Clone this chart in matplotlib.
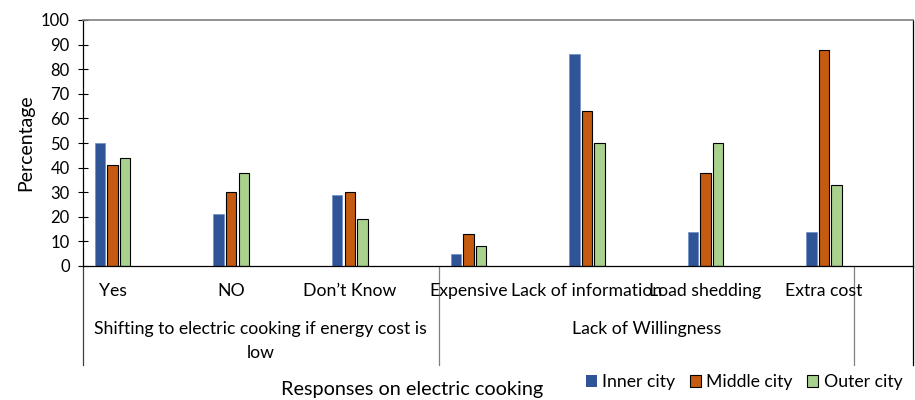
import matplotlib
matplotlib.use("Agg")
import matplotlib.pyplot as plt
import matplotlib.transforms as mtransforms
from matplotlib.patches import Patch
import numpy as np

plt.rcParams['font.family'] = ['Lato', 'DejaVu Sans']

categories = ['Yes', 'NO', 'Don\u2019t Know', 'Expensive', 'Lack of information',
              'Load shedding', 'Extra cost']
groups = ['Shifting to electric cooking if energy cost is\nlow', 'Lack of Willingness']
series = ['Inner city', 'Middle city', 'Outer city']
inner = [50, 21, 29, 5, 86, 14, 14]
middle = [41, 30, 30, 13, 63, 38, 88]
outer = [44, 38, 19, 8, 50, 50, 33]
colors = ['#2F5597', '#C55A11', '#A9D18E']

W, H = 915, 400
fig = plt.figure(figsize=(W / 100, H / 100), dpi=100)
ax = fig.add_axes([83 / W, 1 - 266 / H, 830 / W, 246 / H])

x = np.arange(len(categories))
bw = 0.089
step = 0.106
ax.bar(x - step, inner, bw, color=colors[0], edgecolor='#6f8fc8', linewidth=0.5, zorder=2)
ax.bar(x, middle, bw, color=colors[1], edgecolor='black', linewidth=0.8, zorder=2)
ax.bar(x + step, outer, bw, color=colors[2], edgecolor='black', linewidth=0.8, zorder=2)

ax.set_xlim(-0.25, 6.75)
ax.set_ylim(0, 100)
ax.set_yticks(range(0, 101, 10))
ax.tick_params(axis='y', direction='inout', length=7, width=0.8, labelsize=12, pad=6)
ax.set_xticks([])
for s in ['left', 'bottom', 'right']:
    ax.spines[s].set_color('black')
    ax.spines[s].set_linewidth(0.9)
ax.spines['top'].set_color('#808080')
ax.spines['top'].set_linewidth(1.2)
ax.set_ylabel('Percentage', fontsize=14, labelpad=5)

# category and group labels under the axis
trans = mtransforms.blended_transform_factory(ax.transData, ax.transAxes)
def yfrac(py):
    return (266 - py) / 246

for i, c in enumerate(categories):
    ax.text(i, yfrac(291), c, transform=trans, ha='center', va='center', fontsize=12.7)

edges = [-0.25, 2.75, 6.25]
g0 = (edges[0] + edges[1]) / 2
g1 = (edges[1] + edges[2]) / 2
ax.text(g0, yfrac(329), groups[0].split('\n')[0], transform=trans, ha='center', va='center', fontsize=12.7)
ax.text(g0, yfrac(353), groups[0].split('\n')[1], transform=trans, ha='center', va='center', fontsize=12.7)
ax.text(g1, yfrac(329), groups[1], transform=trans, ha='center', va='center', fontsize=12.7)

for xs, col in [(-0.25, '#404040'), (2.75, '#808080'), (6.25, '#808080'), (6.75, 'black')]:
    ax.plot([xs, xs], [0, yfrac(365)], transform=trans, color=col, lw=0.9, clip_on=False)

fig.text(412 / W, 1 - 390 / H, 'Responses on electric cooking', ha='center', va='center', fontsize=14.3)

handles = [Patch(facecolor=colors[0], edgecolor='none'),
           Patch(facecolor=colors[1], edgecolor='black', linewidth=0.8),
           Patch(facecolor=colors[2], edgecolor='black', linewidth=0.8)]
fig.legend(handles, series, loc='center', bbox_to_anchor=(744 / W, 1 - 382 / H), ncol=3,
           frameon=False, fontsize=12.7, handlelength=0.65, handleheight=0.65,
           handletextpad=0.3, columnspacing=0.8)

fig.savefig('out.png', dpi=100)
